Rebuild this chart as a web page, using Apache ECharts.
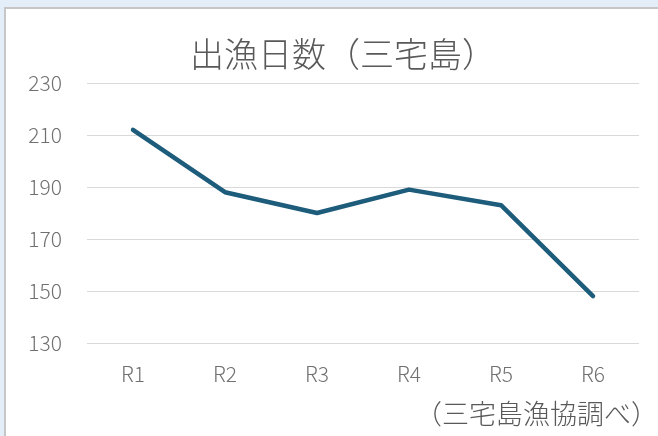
<!DOCTYPE html>
<html>
<head>
<meta charset="utf-8">
<script src="https://cdn.jsdelivr.net/npm/echarts@6/dist/echarts.min.js"></script>
<style>
html,body{margin:0;padding:0;background:#E4EEF8;}
#c{width:658px;height:436px;}
</style>
</head>
<body>
<div id="c"></div>
<script>
const categories = ['R1', 'R2', 'R3', 'R4', 'R5', 'R6'];
const days = [212, 188, 180, 189, 183, 148];
const titleText = '出漁日数（三宅島）';
const sourceText = '（三宅島漁協調べ）';
const yMin = 130, yMax = 230, yStep = 20;

const FONT = '"Noto Sans CJK JP", "Noto Sans", sans-serif';
const GRAY = '#595959';
const LABEL = '#707070';

const chart = echarts.init(document.getElementById('c'), null, {renderer: 'canvas'});
chart.setOption({
  backgroundColor: '#E4EEF8',
  animation: false,
  title: {
    text: titleText,
    left: 185,
    top: 32,
    textStyle: {fontFamily: FONT, fontSize: 34, fontWeight: 300, color: GRAY}
  },
  graphic: [
    {type: 'rect', z: -10, shape: {x: 5, y: 8, width: 700, height: 500},
     style: {fill: '#ffffff', stroke: '#C6C6C6', lineWidth: 2}},
    {type: 'text', x: 658, y: 400,
     style: {text: sourceText, font: '300 27px ' + FONT, fill: GRAY, textAlign: 'right', textVerticalAlign: 'top'}}
  ],
  grid: {left: 87, right: 19, top: 83, bottom: 93, containLabel: false},
  xAxis: {
    type: 'category',
    data: categories,
    boundaryGap: true,
    axisLine: {show: false},
    axisTick: {show: false},
    axisLabel: {margin: 21, fontFamily: FONT, fontSize: 21, fontWeight: 300, color: LABEL}
  },
  yAxis: {
    type: 'value',
    min: yMin, max: yMax, interval: yStep,
    axisLine: {show: false},
    axisTick: {show: false},
    axisLabel: {margin: 25, fontFamily: FONT, fontSize: 21, fontWeight: 300, color: LABEL},
    splitLine: {lineStyle: {color: '#D9D9D9', width: 1}}
  },
  series: [{
    type: 'line',
    data: days,
    symbol: 'none',
    lineStyle: {color: '#1D5C7B', width: 4.5, cap: 'round', join: 'round'}
  }]
});
</script>
</body>
</html>
